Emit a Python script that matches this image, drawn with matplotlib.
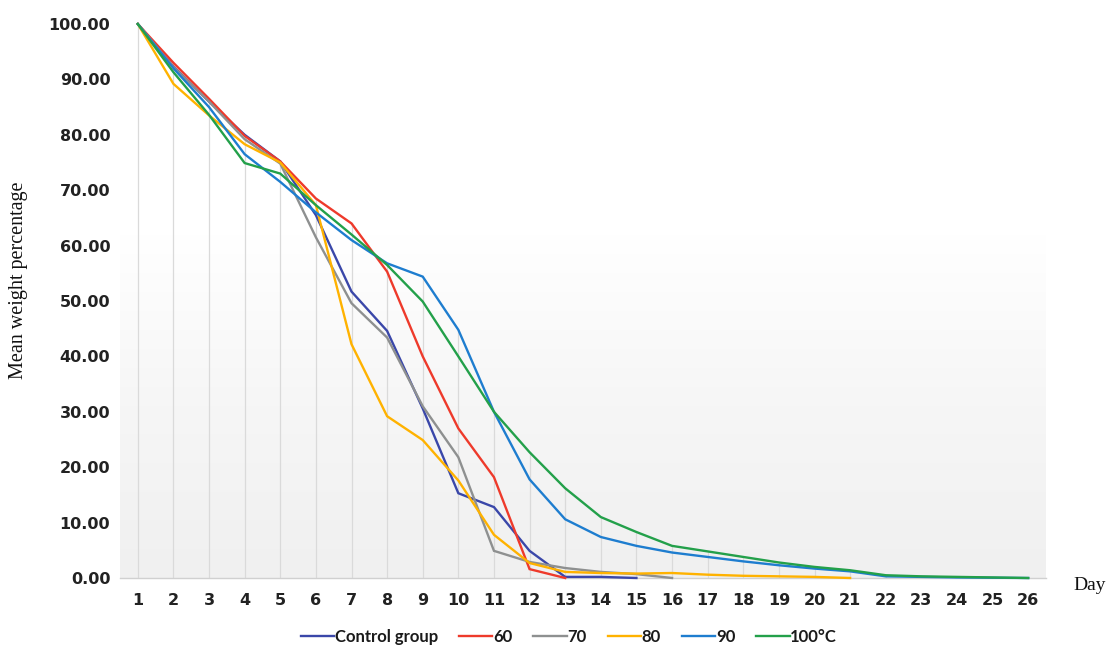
import numpy as np
import matplotlib
matplotlib.use("Agg")
import matplotlib.pyplot as plt
from matplotlib.colors import LinearSegmentedColormap

days = list(range(1, 27))
day_labels = [str(d) for d in days]

control = [100, 92.3, 86, 80, 75.2, 65.5, 51.7, 44.6, 30.6, 15.3, 12.8, 4.9, 0.2, 0.2, 0.0]
t60 = [100, 93, 86.5, 79.8, 75.2, 68.5, 64.0, 55.3, 40.0, 27.0, 18.2, 1.6, 0.0]
t70 = [100, 92.2, 86, 79.2, 74.8, 61.5, 49.6, 43.4, 31.0, 21.8, 4.9, 2.9, 1.8, 1.1, 0.7, 0.0]
t80 = [100, 89.2, 83.5, 78.3, 75.0, 67.3, 42.2, 29.2, 24.9, 17.6, 7.8, 2.7, 1.1, 0.9, 0.8, 0.9,
       0.6, 0.4, 0.3, 0.2, 0.0]
t90 = [100, 92, 85, 76.5, 71.5, 66.0, 61.0, 56.8, 54.4, 44.8, 30.0, 17.8, 10.6, 7.4, 5.8, 4.6,
       3.8, 3.0, 2.3, 1.7, 1.2, 0.3, 0.2, 0.1, 0.05, 0.0]
t100 = [100, 91.3, 83.6, 74.9, 73.0, 67.3, 62.0, 56.5, 49.9, 40.0, 30.0, 22.7, 16.2, 11.0, 8.3,
        5.8, 4.8, 3.8, 2.8, 2.0, 1.4, 0.5, 0.3, 0.2, 0.1, 0.0]

series = [
    ("Control group", control, "#3A47A9"),
    ("60", t60, "#EE3A2B"),
    ("70", t70, "#8E9090"),
    ("80", t80, "#FFB200"),
    ("90", t90, "#1E7DCF"),
    ("100\u00b0C", t100, "#23A04A"),
]
y_ticks = [0, 10, 20, 30, 40, 50, 60, 70, 80, 90, 100]

fig = plt.figure(figsize=(11.1, 6.46), dpi=100)
ax = fig.add_axes([120/1110, 1-578/646, (1046-120)/1110, (578-24)/646])

# background gradient (light gray at bottom fading to white)
grad = np.linspace(0, 1, 256).reshape(-1, 1)
cmap = LinearSegmentedColormap.from_list("bg", ["#f0f0f0", "#f6f6f6", "#ffffff"])
ax.imshow(grad, extent=(0.5, 26.5, 0, 62), origin="lower", aspect="auto",
          cmap=cmap, zorder=0)

# drop lines from the highest value of each day
for i, d in enumerate(days):
    vals = [s[1][i] for s in series if i < len(s[1])]
    top = max(vals)
    if top > 0:
        ax.plot([d, d], [0, top], color="#dadada", lw=0.9, zorder=1)

for name, vals, col in series:
    ax.plot(days[:len(vals)], vals, color=col, lw=1.7, label=name, zorder=3,
            clip_on=False, solid_joinstyle="miter")

ax.set_xlim(0.5, 26.5)
ax.set_ylim(0, 100)
ax.set_xticks(days)
ax.set_xticklabels(day_labels)
ax.set_yticks(y_ticks)
ax.set_yticklabels([f"{v:.2f}" for v in y_ticks])
for side in ["top", "right", "left"]:
    ax.spines[side].set_visible(False)
ax.spines["bottom"].set_color("#d0d0d0")
ax.spines["bottom"].set_linewidth(1.0)
ax.tick_params(axis="both", length=0, labelsize=11.5, labelcolor="#222222")
ax.tick_params(axis="x", pad=11)
ax.tick_params(axis="y", pad=7)
for lab in ax.get_xticklabels() + ax.get_yticklabels():
    lab.set_fontweight("bold")
    lab.set_family("DejaVu Sans")

fig.text(19/1110, 1-280/646, "Mean weight percentage", rotation=90, ha="center",
         va="center", family="Liberation Serif", fontsize=14.5, color="#111111")
fig.text(1090/1110, 1-586/646, "Day", ha="center", va="center",
         family="Liberation Serif", fontsize=14, color="#111111")

leg = fig.legend(loc="center", bbox_to_anchor=(569/1110, 1-637/646), ncol=6,
                 frameon=False, handlelength=2.0, handletextpad=0.05,
                 columnspacing=1.25, borderpad=0.2,
                 prop={"family": "Lato", "size": 12, "weight": "bold"})
for t in leg.get_texts():
    t.set_color("#1a1a1a")

fig.savefig("out.png", dpi=100)
